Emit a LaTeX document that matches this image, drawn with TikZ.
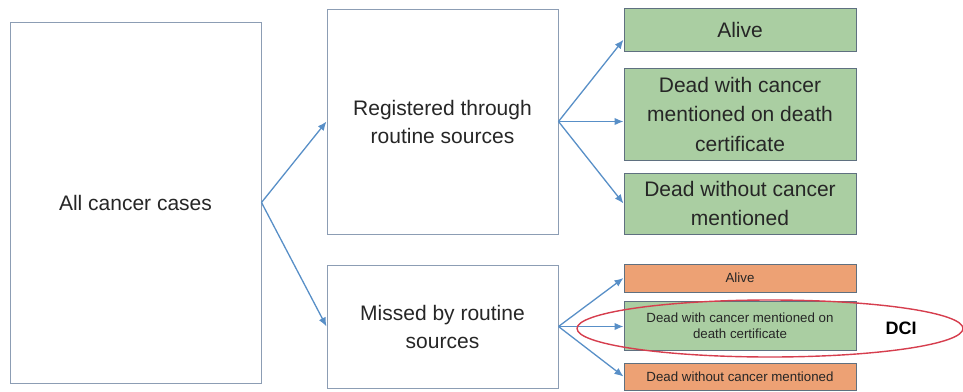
\documentclass[tikz,border=0pt]{standalone}
\usepackage{fontspec}
\setmainfont{Liberation Sans}
\usetikzlibrary{arrows.meta}
\definecolor{boxline}{RGB}{140,157,180}
\definecolor{cellline}{RGB}{95,112,128}
\definecolor{cellgreen}{RGB}{170,206,162}
\definecolor{cellorange}{RGB}{237,161,116}
\definecolor{arrowblue}{RGB}{88,143,199}
\definecolor{ringred}{RGB}{214,62,78}
\definecolor{textgrey}{RGB}{38,38,38}
\tikzset{
	bigbox/.style={draw=boxline, line width=1pt, fill=white, text=textgrey, align=center, inner sep=0pt,
		font=\fontsize{21}{28}\selectfont},
	cell/.style={draw=cellline, line width=1pt, text=textgrey, align=center, inner sep=0pt,
		minimum width=232pt, font=\fontsize{21}{29.5}\selectfont},
	smallcell/.style={cell, font=\fontsize{13.3}{16.5}\selectfont},
	flow/.style={draw=arrowblue, line width=1.3pt, -{Latex[length=9pt,width=7.5pt]}}
}
\begin{document}
\begin{tikzpicture}[x=1pt, y=-1pt]
					\useasboundingbox (0,0) rectangle (963,391);
					%Nodes
					\node[bigbox, minimum width=251pt, minimum height=361pt] (all)  at (135.5,202.5) {All cancer cases};
					\node[bigbox, minimum width=231pt, minimum height=225pt] (reg)  at (442.5,121.5) {Registered through\\routine sources};
					\node[bigbox, minimum width=231pt, minimum height=123pt] (miss) at (442.5,326.5) {Missed by routine\\sources};

					\node[cell, fill=cellgreen, minimum height=43pt] (regalive) at (740,29.5) {Alive};
					\node[cell, fill=cellgreen, minimum height=92pt] (regdc)    at (740,114)  {Dead with cancer\\mentioned on death\\certificate};
					\node[cell, fill=cellgreen, minimum height=61pt] (regnodc)  at (740,203.5) {Dead without cancer\\mentioned};

					\node[smallcell, fill=cellorange, minimum height=28pt] (missalive) at (740,278)   {Alive};
					\node[smallcell, fill=cellgreen,  minimum height=49pt] (missdc)    at (740,325.5) {Dead with cancer mentioned on\\death certificate};
					\node[smallcell, fill=cellorange, minimum height=27pt] (missnodc)  at (740,376.5) {Dead without cancer mentioned};

					\node[text=black, font=\fontsize{18}{20}\selectfont\bfseries] (dci) at (901,328) {DCI};

					%Lines
					\draw[flow] (all.east) -- (reg.west);
					\draw[flow] (all.east) -- (miss.west);

					\draw[flow] (reg.east) -- (regalive.185);
					\draw[flow] (reg.east) -- (reg.east -| regdc.west);
					\draw[flow] (reg.east) -- (regnodc.west);

					\draw[flow] (miss.east) -- (missalive.west);
					\draw[flow] (miss.east) -- (miss.east -| missdc.west);
					\draw[flow] (miss.east) -- (missnodc.west);

					%Ring
					\draw[ringred, line width=1.4pt] (770,328.5) ellipse [x radius=193, y radius=28.5];

				\end{tikzpicture}
\end{document}
